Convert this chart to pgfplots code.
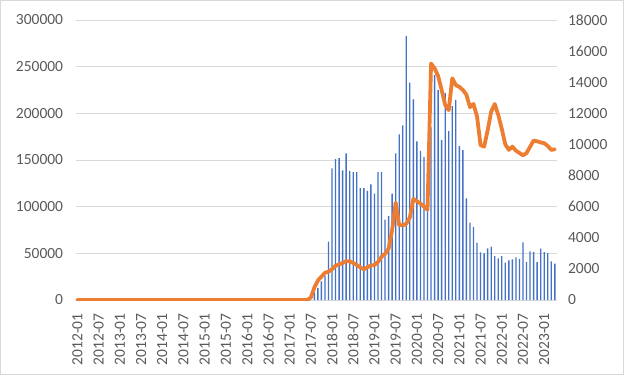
\documentclass[border=0pt]{standalone}
\usepackage{pgfplots}
\pgfplotsset{compat=1.18}
\usepackage{pgfplotstable}
\usepackage{fontspec}
\setmainfont{Carlito}
\definecolor{barblue}{HTML}{4472C4}
\definecolor{lineor}{HTML}{ED7D31}
\definecolor{gridg}{HTML}{D9D9D9}
\definecolor{txtg}{HTML}{595959}

\pgfplotstableread{
idx val
67 8000
68 13000
69 20000
70 26000
71 62500
72 141000
73 151000
74 152000
75 139000
76 157000
77 138000
78 137000
79 137000
80 120000
81 120000
82 117000
83 124000
84 114000
85 137000
86 137000
87 86000
88 90000
89 114000
90 157000
91 177500
92 187000
93 282800
94 232800
95 215000
96 170000
97 159500
98 153000
99 95000
100 185000
101 241000
102 225000
103 171400
104 222000
105 181000
106 207800
107 214300
108 165000
109 160700
110 109000
111 83000
112 78000
113 61400
114 51100
115 50000
116 55400
117 57100
118 47100
119 44600
120 47100
121 40000
122 42500
123 43600
124 45700
125 44100
126 61800
127 40700
128 52100
129 51400
130 40700
131 55000
132 51400
133 50300
134 41400
135 38900
}\bars

\pgfplotstableread{
idx val
0 0
1 0
2 0
3 0
4 0
5 0
6 0
7 0
8 0
9 0
10 0
11 0
12 0
13 0
14 0
15 0
16 0
17 0
18 0
19 0
20 0
21 0
22 0
23 0
24 0
25 0
26 0
27 0
28 0
29 0
30 0
31 0
32 0
33 0
34 0
35 0
36 0
37 0
38 0
39 0
40 0
41 0
42 0
43 0
44 0
45 0
46 0
47 0
48 0
49 0
50 0
51 0
52 0
53 0
54 0
55 0
56 0
57 0
58 0
59 0
60 0
61 0
62 0
63 0
64 0
65 0
66 150
67 800
68 1250
69 1500
70 1750
71 1820
72 1980
73 2200
74 2290
75 2380
76 2500
77 2480
78 2380
79 2250
80 2100
81 1970
82 2110
83 2220
84 2250
85 2440
86 2780
87 2970
88 3300
89 4500
90 6260
91 4800
92 4800
93 4900
94 5300
95 6500
96 6350
97 6200
98 6000
99 5800
100 15200
101 14900
102 14400
103 13500
104 12540
105 12200
106 14250
107 13820
108 13700
109 13500
110 13200
111 12400
112 12600
113 11800
114 9950
115 9860
116 10900
117 12100
118 12600
119 11900
120 11000
121 10000
122 9650
123 9860
124 9600
125 9450
126 9300
127 9450
128 9850
129 10250
130 10200
131 10130
132 10080
133 9900
134 9650
135 9690
}\line

\pgfplotsset{
  every axis/.append style={
    scale only axis, width=481pt, height=280pt,
    xmin=-0.5, xmax=135.5,
    tick style={draw=none},
    axis line style={draw=none},
    ticklabel style={font=\fontsize{15.5}{18}\selectfont, text=txtg},
    scaled y ticks=false,
    /pgf/number format/fixed,
    /pgf/number format/1000 sep={},
    /pgf/number format/assume math mode=true,
  }
}

\begin{document}
\begin{tikzpicture}
\begin{axis}[
  axis x line*=bottom, axis y line*=left,
  ymin=0, ymax=300000, ytick={0,50000,...,300000},
  ymajorgrids, grid style={gridg, line width=0.9pt},
  xtick={0,6,...,132},
  xticklabels={2012-01,2012-07,2013-01,2013-07,2014-01,2014-07,2015-01,2015-07,2016-01,2016-07,2017-01,2017-07,2018-01,2018-07,2019-01,2019-07,2020-01,2020-07,2021-01,2021-07,2022-01,2022-07,2023-01},
  xticklabel style={rotate=90, anchor=east, xshift=-10pt},
  yticklabel style={anchor=east, xshift=-9pt},
]
\addplot[ybar, bar width=0.38, draw=none, fill=barblue] table[x=idx, y=val] {\bars};
\end{axis}
\begin{axis}[
  axis x line=none, axis y line*=right,
  ymin=0, ymax=18000, ytick={0,2000,...,18000},
  yticklabel style={anchor=west, xshift=8pt},
]
\addplot[lineor, line width=3.8pt, line join=round, line cap=round, mark=none] table[x=idx, y=val] {\line};
\end{axis}
\draw[gridg, line width=1pt] (-74.6pt,-74pt) rectangle (547.4pt,299pt);
\pgfresetboundingbox
\useasboundingbox (-75.6pt,-75pt) rectangle (548.4pt,300pt);
\end{tikzpicture}
\end{document}
